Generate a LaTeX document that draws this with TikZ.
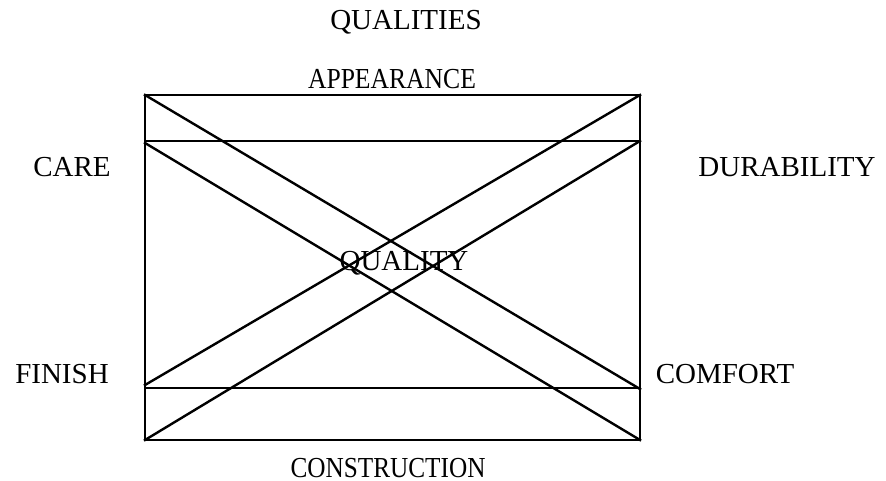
\documentclass[tikz,border=0pt]{standalone}
\usepackage{graphicx}
\usepackage{fontspec}
\setmainfont{Liberation Serif}
\begin{document}
\begin{tikzpicture}[x=1pt,y=-1pt,
  lbl/.style={anchor=base,inner sep=0pt,font=\fontsize{29}{34}\selectfont},
  ln/.style={line width=2.4pt,line cap=rect}]
\useasboundingbox (0,0) rectangle (886,481);
\coordinate (tl) at (145,95);
\coordinate (tr) at (640,95);
\coordinate (bl) at (145,440);
\coordinate (br) at (640,440);
\coordinate (l1) at (145,141);
\coordinate (r1) at (640,141);
\coordinate (l2) at (145,388);
\coordinate (r2) at (640,388);
\coordinate (l3) at (145,385);
\coordinate (r3) at (640,389);
\coordinate (l4) at (145,143);
\draw[ln] (tl) rectangle (br);
\draw[ln] (l1) -- (r1);
\draw[ln] (l2) -- (r2);
\draw[ln] (tl) -- (r3);
\draw[ln] (l4) -- (br);
\draw[ln] (tr) -- (l3);
\draw[ln] (r1) -- (bl);
\node[lbl] (qs) at (406,30) {QUALITIES};
\node[lbl] (ap) at (392,89) {\resizebox{168pt}{\height}{APPEARANCE}};
\node[lbl] (ca) at (72,177) {CARE};
\node[lbl] (du) at (787,177) {DURABILITY};
\node[lbl] (q) at (404,270) {QUALITY};
\node[lbl] (fi) at (62,383) {FINISH};
\node[lbl] (co) at (725,383) {COMFORT};
\node[lbl] (cn) at (388,477) {\resizebox{195pt}{\height}{CONSTRUCTION}};
\end{tikzpicture}
\end{document}
